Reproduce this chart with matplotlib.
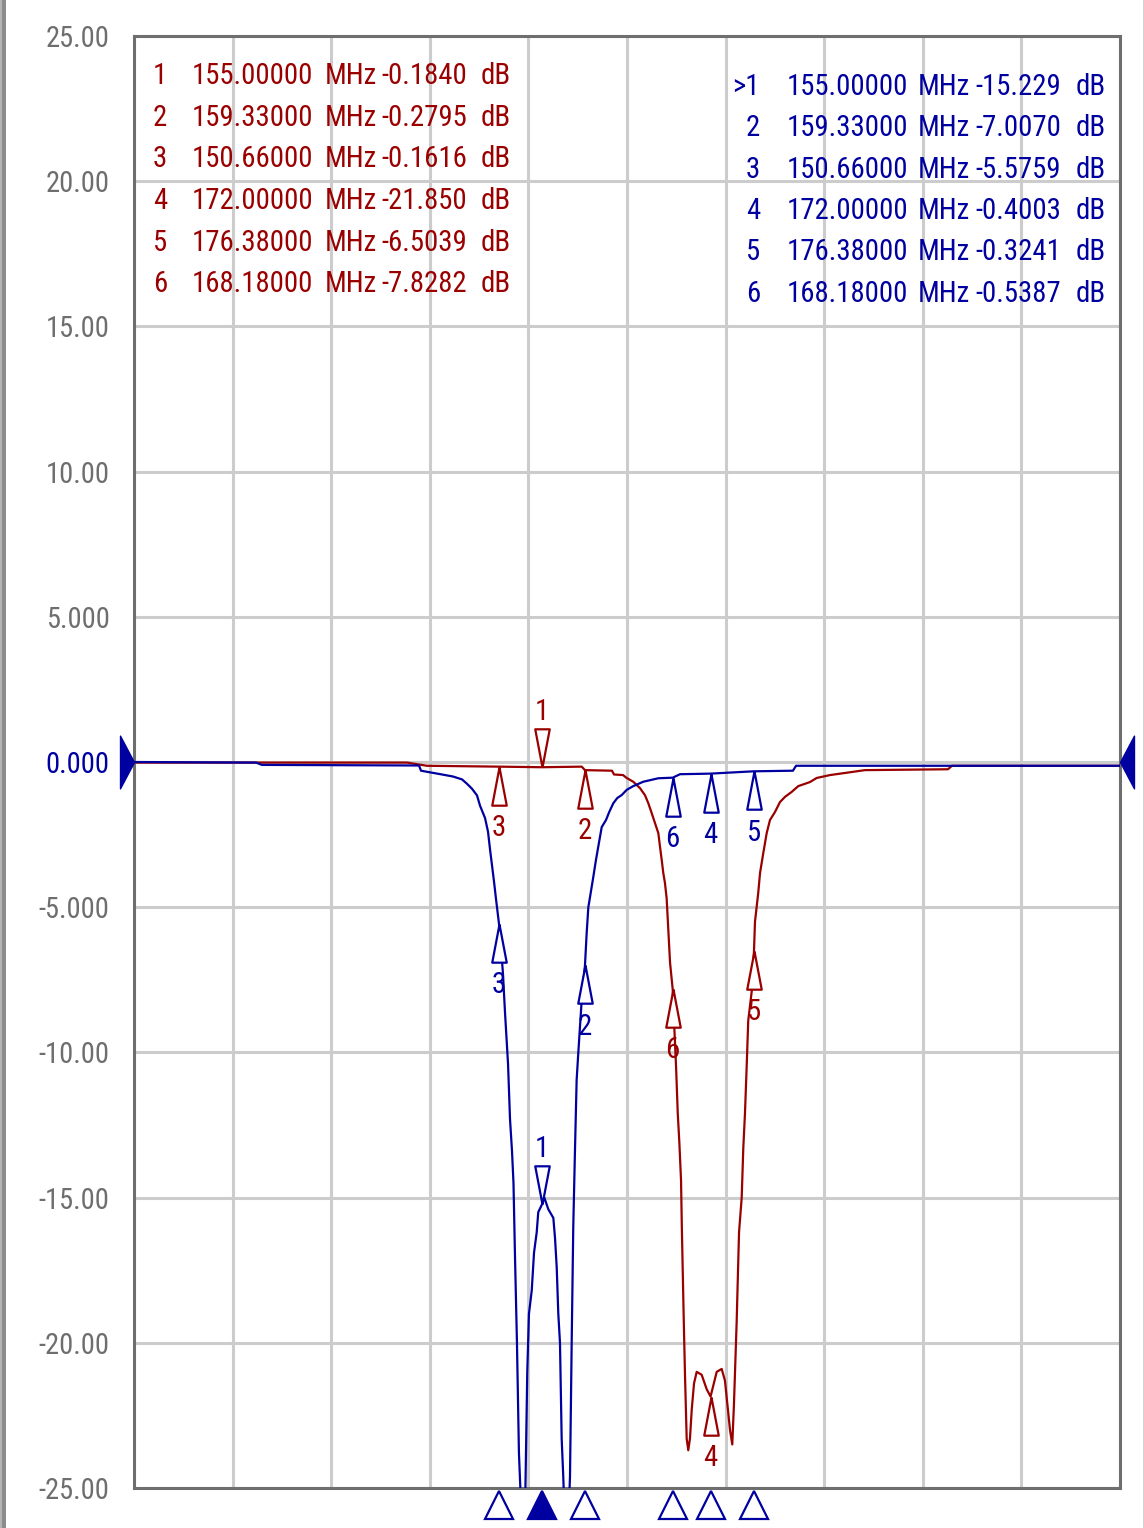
import matplotlib
matplotlib.use("Agg")
import matplotlib.pyplot as plt
from matplotlib import font_manager
from matplotlib.font_manager import FontProperties
from matplotlib.textpath import TextPath
from matplotlib.patches import Rectangle
from matplotlib.transforms import blended_transform_factory
import numpy as np

W, H = 1144, 1528
RED = "#9a0000"
BLUE = "#0000a0"
GRAY = "#6e6e6e"

# sweep / scale
f_start, f_stop = 113.84, 213.30
y_ticks = [25, 20, 15, 10, 5, 0, -5, -10, -15, -20, -25]
y_labels = ["25.00", "20.00", "15.00", "10.00", "5.000", "0.000",
            "-5.000", "-10.00", "-15.00", "-20.00", "-25.00"]

# trace 1 (red), MHz / dB
red_f = [113.84, 141.38, 143.39, 150.66, 155.00, 159.00, 159.33, 162.06, 162.26,
         163.17, 163.54, 164.20, 164.88, 165.38, 165.72, 166.06, 166.39, 166.73,
         166.90, 167.07, 167.23, 167.40, 167.57, 167.74, 167.91, 168.18, 168.35,
         168.52, 168.69, 168.85, 169.02, 169.10, 169.30, 169.42, 169.59, 169.75,
         169.92, 170.10, 170.33, 170.60, 171.10, 171.61, 172.00, 172.62, 173.12,
         173.45, 173.69, 173.96, 174.19, 174.36, 174.63, 174.87, 175.14, 175.30,
         175.47, 175.64, 175.80, 176.15, 176.38, 176.48, 176.81, 176.99, 177.32,
         177.66, 177.99, 178.50, 179.00, 179.51, 180.18, 180.85, 182.03, 182.70,
         184.05, 187.58, 195.95, 196.35, 213.30]
red_db = [-0.02, -0.02, -0.13, -0.16, -0.18, -0.16, -0.28, -0.30, -0.43,
          -0.45, -0.55, -0.68, -0.90, -1.14, -1.42, -1.76, -2.10, -2.45,
          -2.92, -3.37, -3.82, -4.17, -4.70, -5.80, -6.90, -7.83, -9.20,
          -10.5, -12.1, -13.1, -14.4, -16.0, -19.3, -21.1, -23.3, -23.7,
          -23.3, -22.3, -21.4, -21.0, -21.1, -21.6, -21.85, -21.0, -20.9,
          -21.3, -22.1, -23.0, -23.5, -22.1, -19.3, -16.2, -15.0, -13.3,
          -12.1, -10.5, -8.9, -7.9, -6.50, -5.5, -4.5, -3.82, -3.13,
          -2.45, -2.00, -1.72, -1.38, -1.20, -1.03, -0.83, -0.69, -0.55,
          -0.45, -0.28, -0.25, -0.13, -0.13]

# trace 2 (blue), MHz / dB
blue_f = [113.84, 126.15, 126.75, 142.59, 142.79, 144.91, 146.02, 146.93, 147.43,
          147.93, 148.44, 148.74, 149.25, 149.55, 149.75, 149.95, 150.15, 150.35,
          150.66, 150.76, 151.06, 151.26, 151.57, 151.77, 151.97, 152.12, 152.27,
          152.47, 152.67, 152.93, 153.18, 153.38, 153.51, 153.68, 153.96, 154.19,
          154.46, 154.62, 155.00, 155.23, 155.63, 156.14, 156.31, 156.48, 156.64,
          156.81, 156.98, 157.14, 157.47, 157.82, 157.99, 158.15, 158.32, 158.49,
          158.66, 159.00, 159.33, 159.50, 159.67, 159.84, 160.17, 160.44, 160.67,
          161.02, 161.45, 161.78, 162.19, 162.59, 163.03, 163.54, 164.20, 165.21,
          166.73, 168.18, 168.92, 170.60, 172.00, 176.38, 180.31, 180.62, 213.30]
blue_db = [0.00, -0.02, -0.10, -0.12, -0.30, -0.43, -0.50, -0.60, -0.75,
           -0.92, -1.15, -1.50, -1.93, -2.40, -3.00, -3.55, -4.10, -4.70,
           -5.58, -5.90, -7.30, -8.60, -10.4, -12.3, -13.4, -14.5, -17.0,
           -20.0, -23.8, -26.0, -28.0, -23.8, -21.0, -19.0, -18.2, -16.9,
           -16.2, -15.5, -15.23, -15.0, -15.4, -15.7, -16.4, -17.4, -19.0,
           -20.0, -23.3, -24.6, -28.0, -24.6, -20.0, -16.0, -13.4, -10.95,
           -10.0, -8.2, -7.01, -5.9, -5.0, -4.65, -3.96, -3.37, -2.92,
           -2.24, -2.00, -1.72, -1.42, -1.24, -1.14, -0.96, -0.83, -0.68,
           -0.56, -0.54, -0.42, -0.41, -0.40, -0.32, -0.30, -0.13, -0.13]

# markers
marker_ids = ["1", "2", "3", "4", "5", "6"]
marker_f = [155.0, 159.33, 150.66, 172.0, 176.38, 168.18]
red_marker_db = [-0.1840, -0.2795, -0.1616, -21.850, -6.5039, -7.8282]
blue_marker_db = [-15.229, -7.0070, -5.5759, -0.4003, -0.3241, -0.5387]


def fmt_db(v):
    return f"{v:.3f}" if abs(v) >= 10 else f"{v:.4f}"


# the analyzer font is very narrow; take the narrowest family we have
FONT = "DejaVu Sans Mono"
for fam in ["Liberation Sans Narrow", "Roboto Condensed", "Noto Sans Condensed",
            "Open Sans Condensed"]:
    try:
        font_manager.findfont(fam, fallback_to_default=False)
        FONT = fam
        break
    except ValueError:
        pass


def size_for_width(s, width_px):
    tp = TextPath((0, 0), s, size=10, prop=FontProperties(family=FONT))
    w = tp.get_extents().width * 100 / 72
    return 10 * width_px / w


FS = size_for_width("155.00000", 117)
TICK_FS = size_for_width("25.00", 61)


def px(x, y):
    return x / W, 1 - y / H


fig = plt.figure(figsize=(W / 100, H / 100), dpi=100)
fig.patch.set_facecolor("white")
ax = fig.add_axes([134 / W, 1 - 1488 / H, (1120 - 134) / W, (1488 - 36) / H])

ax.set_xlim(f_start, f_stop)
ax.set_ylim(-25, 25)
ax.set_xticks(np.linspace(f_start, f_stop, 11))
ax.set_xticklabels([])
ax.set_yticks(y_ticks)
ax.set_yticklabels(y_labels, fontfamily=FONT, fontsize=TICK_FS)
ax.tick_params(length=0, pad=17.5, labelcolor=GRAY)
ax.get_yticklabels()[5].set_color(BLUE)
ax.grid(True, color="#cccccc", lw=2.2)
ax.set_axisbelow(True)
for s in ax.spines.values():
    s.set_color(GRAY)
    s.set_linewidth(2.2)

ax.plot(red_f, red_db, color=RED, lw=1.6, zorder=3)
ax.plot(blue_f, blue_db, color=BLUE, lw=1.6, zorder=4)

up_tri = [(0, 0), (-0.19, -1), (0.19, -1), (0, 0)]
down_tri = [(0, 0), (-0.19, 1), (0.19, 1), (0, 0)]

for color, vals in ((RED, red_marker_db), (BLUE, blue_marker_db)):
    for mid, f, v in zip(marker_ids, marker_f, vals):
        if mid == "1":
            mk, dy = down_tri, 40
        else:
            mk, dy = up_tri, -44
        ax.plot([f], [v], marker=mk, ms=55, mfc="white", mec=color, mew=1.6,
                ls="none", zorder=5, clip_on=False)
        ax.annotate(mid, (f, v), xytext=(0, dy), textcoords="offset points",
                    ha="center", va="center", color=color,
                    fontfamily=FONT, fontsize=FS, zorder=6)

# marker flags under the x axis
xflag = blended_transform_factory(ax.transData, ax.transAxes)
for mid, f in zip(marker_ids, marker_f):
    ax.plot([f], [-0.0115], transform=xflag, marker="^", ms=20,
            mfc=BLUE if mid == "1" else "white", mec=BLUE, mew=1.6,
            ls="none", clip_on=False)

# reference level arrows
yref = blended_transform_factory(ax.transAxes, ax.transData)
ax.plot([0], [0], transform=yref, marker=[(0, 0), (-0.53, 1), (-0.53, -1), (0, 0)],
        ms=38, color=BLUE, ls="none", clip_on=False, zorder=6)
ax.plot([1], [0], transform=yref, marker=[(0, 0), (0.53, 1), (0.53, -1), (0, 0)],
        ms=38, color=BLUE, ls="none", clip_on=False, zorder=6)

# marker tables
for i, mid in enumerate(marker_ids):
    yb = 84 + 41.7 * i
    kw = dict(color=RED, fontfamily=FONT, fontsize=FS, va="baseline")
    fig.text(*px(160, yb), mid, ha="center", **kw)
    fig.text(*px(192, yb), f"{marker_f[i]:.5f}", ha="left", **kw)
    fig.text(*px(325, yb), "MHz", ha="left", **kw)
    fig.text(*px(467, yb), fmt_db(red_marker_db[i]), ha="right", **kw)
    fig.text(*px(481, yb), "dB", ha="left", **kw)

    yb = 95 + 41.3 * i
    kw = dict(color=BLUE, fontfamily=FONT, fontsize=FS, va="baseline")
    fig.text(*px(760, yb), (">" if mid == "1" else "") + mid, ha="right", **kw)
    fig.text(*px(787, yb), f"{marker_f[i]:.5f}", ha="left", **kw)
    fig.text(*px(918, yb), "MHz", ha="left", **kw)
    fig.text(*px(1061, yb), fmt_db(blue_marker_db[i]), ha="right", **kw)
    fig.text(*px(1076, yb), "dB", ha="left", **kw)

# window border
fig.add_artist(Rectangle((0, 0), 2 / W, 1, transform=fig.transFigure, color="#b4b4b4", lw=0))
fig.add_artist(Rectangle((2 / W, 0), 4 / W, 1, transform=fig.transFigure, color="#8c8c8c", lw=0))
fig.add_artist(Rectangle((1 - 1.5 / W, 0), 1.5 / W, 1, transform=fig.transFigure, color="#d0d0d0", lw=0))

fig.savefig("out.png", dpi=100)
